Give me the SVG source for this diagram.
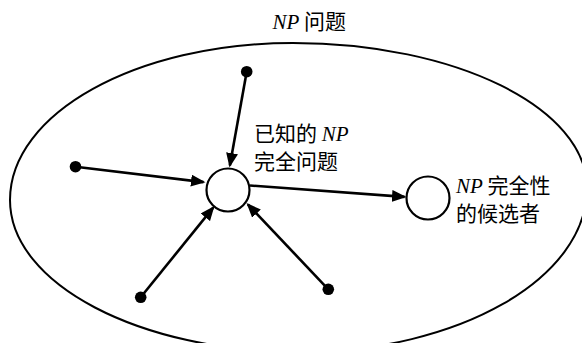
<svg xmlns="http://www.w3.org/2000/svg" width="582" height="343" viewBox="0 0 582 343">
  <style>
    .region { fill: none; stroke: #000; stroke-width: 2; }
    .node { fill: #fff; stroke: #000; stroke-width: 2.2; }
    .dot { fill: #000; }
    .edge { fill: none; stroke: #000; stroke-width: 2.6; marker-end: url(#arrow); }
    .lbl { font-family: "Noto Sans CJK SC", "Liberation Serif", sans-serif; font-size: 21px; fill: #000; }
    .np { font-family: "Liberation Serif", "Times New Roman", serif; font-style: italic; }
  </style>
  <defs>
    <marker id="arrow" markerUnits="userSpaceOnUse" markerWidth="16" markerHeight="13" refX="12.5" refY="6" orient="auto">
      <path d="M0,0 L14.5,6 L0,12 Z" fill="#000"/>
    </marker>
  </defs>
  <rect width="582" height="343" fill="#fff"/>

  <g id="np-region">
    <path class="region" d="M10,200 C10,113.3 136.7,43 293,43 C455.4,43 587,107.9 587,188 C587,278.6 458.5,352 300,352 C139.8,352 10,284 10,200 Z"/>
    <text class="lbl" x="272.5" y="28.5"><tspan class="np">NP</tspan> 问题</text>
  </g>

  <g id="connectors">
    <line class="edge" x1="246.7" y1="71.7" x2="229.85" y2="165.5"/>
    <line class="edge" x1="75.5" y1="166.7" x2="203.5" y2="182.1"/>
    <line class="edge" x1="140.7" y1="297.3" x2="213.2" y2="207.6"/>
    <line class="edge" x1="328.3" y1="289.3" x2="247.9" y2="204.5"/>
    <line class="edge" x1="250" y1="185.5" x2="404.5" y2="196.85"/>
  </g>

  <g id="known-npc">
    <circle class="node" cx="228" cy="190" r="21.5"/>
    <text class="lbl" x="254" y="141">已知的 <tspan class="np">NP</tspan></text>
    <text class="lbl" x="254" y="168.5">完全问题</text>
  </g>

  <g id="candidate">
    <circle class="node" cx="428" cy="198" r="21.5"/>
    <text class="lbl" x="456" y="193">
      <tspan class="np">NP</tspan> 完全性</text>
    <text class="lbl" x="456" y="220.5">的候选者</text>
  </g>

  <g id="src-top"><circle class="dot" cx="246.7" cy="71.7" r="5.8"/></g>
  <g id="src-left"><circle class="dot" cx="75.5" cy="166.7" r="5.8"/></g>
  <g id="src-bottom-left"><circle class="dot" cx="140.7" cy="297.3" r="5.8"/></g>
  <g id="src-bottom-right"><circle class="dot" cx="328.3" cy="289.3" r="5.8"/></g>
</svg>
